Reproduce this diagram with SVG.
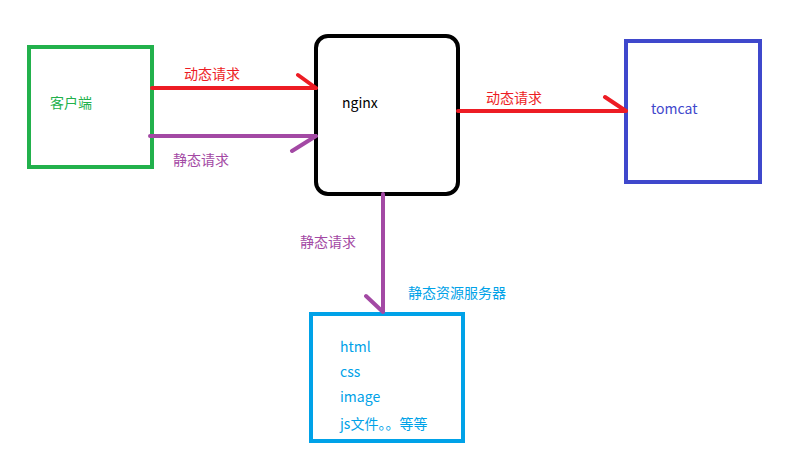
<svg xmlns="http://www.w3.org/2000/svg" width="792" height="459" viewBox="0 0 792 459">
<style>
text{font-family:"Microsoft YaHei","Noto Sans CJK SC",sans-serif;font-size:14px}
.box{fill:none;stroke-width:4}
.ln{fill:none;stroke-width:4;stroke-linecap:round}
</style>
<rect width="792" height="459" fill="#fff"/>
<g id="client"><rect class="box" x="29" y="47" width="123" height="120" stroke="#22b14c"/><text x="50" y="108" fill="#22b14c">客户端</text></g>
<g id="nginx"><rect class="box" x="316" y="36" width="142" height="158" rx="12" stroke="#000"/><text x="342" y="108" fill="#000">nginx</text></g>
<g id="tomcat"><rect class="box" x="626" y="41" width="134" height="141" stroke="#3f48cc"/><text x="651" y="114" fill="#3f48cc">tomcat</text></g>
<g id="static"><rect class="box" x="311" y="314" width="152" height="127" stroke="#00a2e8"/>
<text x="408" y="298" fill="#00a2e8">静态资源服务器</text>
<text x="340" y="352" fill="#00a2e8">html</text><text x="340" y="377" fill="#00a2e8">css</text><text x="340" y="402" fill="#00a2e8">image</text><text x="340" y="429" fill="#00a2e8">js文件。。等等</text></g>
<g id="connectors">
<path class="ln" stroke="#ed1c24" d="M152 88H316M298 75L316 88"/>
<text x="184" y="79" fill="#ed1c24">动态请求</text>
<path class="ln" stroke="#a349a4" d="M150 136H316M292 151L316 136"/>
<text x="173" y="165" fill="#a349a4">静态请求</text>
<path class="ln" stroke="#ed1c24" d="M458 111H626M605 97L626 111"/>
<text x="486" y="103" fill="#ed1c24">动态请求</text>
<path class="ln" stroke="#a349a4" d="M383 194V312M366 296L383 312"/>
<text x="300" y="247" fill="#a349a4">静态请求</text>
</g>
</svg>
